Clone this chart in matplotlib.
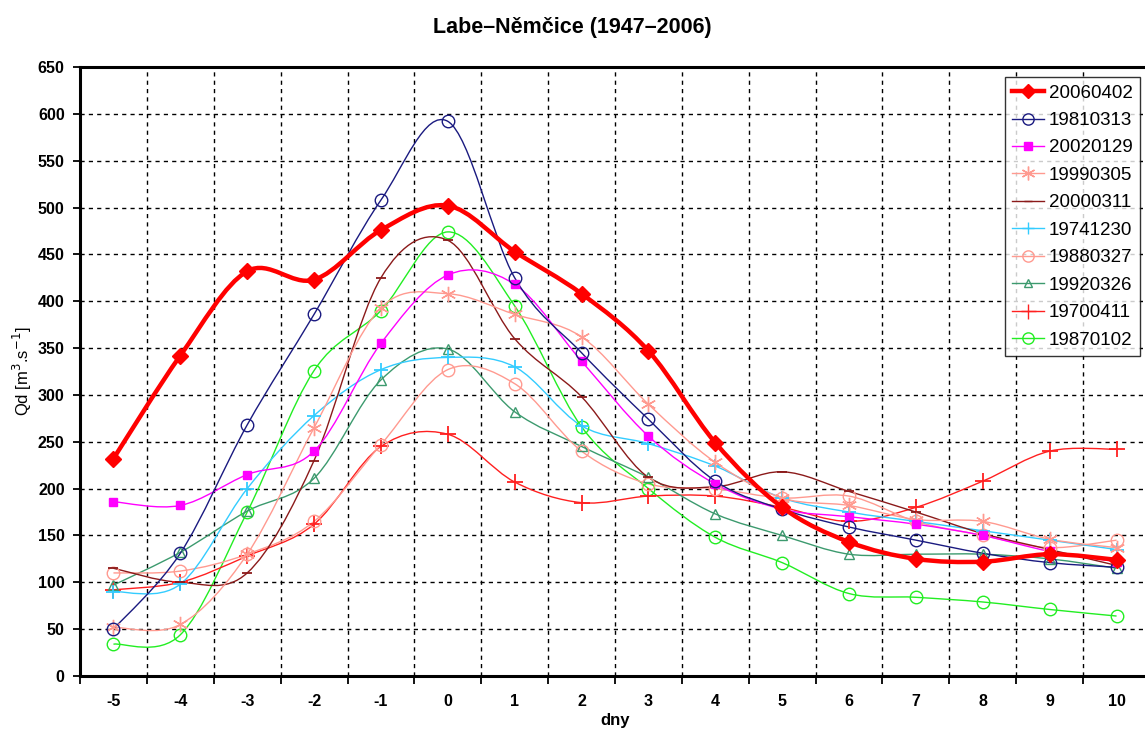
import numpy as np
import matplotlib
matplotlib.use('Agg')
import matplotlib.pyplot as plt
from matplotlib.path import Path
from matplotlib.patches import PathPatch
from matplotlib.lines import Line2D

plt.rcParams['font.family'] = ['Liberation Sans', 'DejaVu Sans']
plt.rcParams['axes.unicode_minus'] = False

# ------------------------------------------------------------
# data
# ------------------------------------------------------------
days = [-5, -4, -3, -2, -1, 0, 1, 2, 3, 4, 5, 6, 7, 8, 9, 10]

q_20060402 = [232, 342, 432, 423, 476, 502, 453, 408, 347, 249, 180, 143, 125, 122, 130, 124]
q_19810313 = [50, 131, 268, 386, 508, 592, 425, 345, 274, 208, 178, 159, 145, 131, 121, 116]
q_20020129 = [186, 182, 215, 240, 355, 428, 418, 336, 256, 205, 178, 170, 162, 150, 133, 122]
q_19990305 = [52, 55, 130, 265, 393, 408, 386, 362, 290, 228, 190, 182, 167, 165, 146, 137]
q_20000311 = [115, 100, 110, 230, 425, 465, 360, 298, 212, 202, 218, 197, 175, 152, 135, 118]
q_19741230 = [90, 98, 200, 278, 327, 340, 330, 267, 248, 224, 190, 175, 165, 155, 145, 135]
q_19880327 = [110, 112, 130, 165, 247, 327, 312, 240, 205, 200, 190, 192, 165, 150, 137, 145]
q_19920326 = [97, 132, 176, 211, 316, 349, 282, 245, 212, 173, 150, 130, 130, 130, 125, 115]
q_19700411 = [92, 100, 128, 162, 245, 258, 207, 185, 192, 192, 180, 165, 180, 208, 240, 242]
q_19870102 = [34, 44, 175, 326, 390, 474, 395, 266, 200, 148, 121, 88, 84, 79, 71, 64]

labels = ['20060402', '19810313', '20020129', '19990305', '20000311',
          '19741230', '19880327', '19920326', '19700411', '19870102']
series = [q_20060402, q_19810313, q_20020129, q_19990305, q_20000311,
          q_19741230, q_19880327, q_19920326, q_19700411, q_19870102]

ASTER = (6, 2, 0)  # six-armed asterisk marker
# style per series: colour, marker, filled, linewidth, markersize
styles = [('#ff0000', 'D', True, 3.2, 8),
          ('#1a1a80', 'o', False, 1.0, 9),
          ('#ff00ff', 's', True, 1.0, 6),
          ('#ff9a90', ASTER, False, 1.0, 11),
          ('#8b1a1a', '_', True, 1.0, 7),
          ('#33ccff', '+', True, 1.0, 10),
          ('#ff9a90', 'o', False, 1.0, 9),
          ('#3c9a6e', '^', False, 1.0, 7),
          ('#ff2020', '+', True, 1.0, 12),
          ('#22ee22', 'o', False, 1.0, 9)]


def smooth_path(x, y):
    # excel-like smoothed line drawn as cubic bezier segments
    x = np.asarray(x, float)
    y = np.asarray(y, float)
    n = len(x)
    verts = [(x[0], y[0])]
    codes = [Path.MOVETO]
    for i in range(n - 1):
        i0 = max(i - 1, 0)
        i3 = min(i + 2, n - 1)
        c1 = (x[i] + (x[i + 1] - x[i0]) / 6., y[i] + (y[i + 1] - y[i0]) / 6.)
        c2 = (x[i + 1] - (x[i3] - x[i]) / 6., y[i + 1] - (y[i3] - y[i]) / 6.)
        verts += [c1, c2, (x[i + 1], y[i + 1])]
        codes += [Path.CURVE4] * 3
    return Path(verts, codes)


fig = plt.figure(figsize=(11.45, 7.37), dpi=100)
ax = fig.add_axes([80 / 1145., 1 - 676 / 737., 1070 / 1145., 609 / 737.])

for k in list(range(len(series)))[::-1]:
    col, mk, filled, lw, ms = styles[k]
    zo = 5 if k == 0 else 3
    ax.add_patch(PathPatch(smooth_path(days, series[k]), facecolor='none',
                           edgecolor=col, lw=lw, zorder=zo, clip_on=False))
    ax.plot(days, series[k], linestyle='None', marker=mk, markersize=ms,
            markerfacecolor=col if filled else 'none', markeredgecolor=col,
            markeredgewidth=1.0 if mk not in ('+', '_') else 1.3, zorder=zo + 1)

handles = []
for k in range(len(series)):
    col, mk, filled, lw, ms = styles[k]
    handles.append(Line2D([0], [0], color=col, lw=lw, marker=mk, markersize=ms * 0.9,
                          markerfacecolor=col if filled else 'none',
                          markeredgecolor=col))

ax.set_xlim(-5.5, 10.5)
ax.set_ylim(0, 650)
ax.set_yticks(np.arange(0, 651, 50))
ax.set_xticks(days)
ax.set_xticks(np.arange(-5.5, 10.6, 1), minor=True)

ax.tick_params(axis='x', which='major', length=0, pad=13, labelsize=11.5)
ax.tick_params(axis='x', which='minor', length=6, width=1.3, direction='out')
ax.tick_params(axis='y', which='major', length=5, width=1.3, direction='out',
               labelsize=11.5, pad=6)
for lab in ax.get_xticklabels() + ax.get_yticklabels():
    lab.set_fontweight('bold')

ax.grid(True, which='minor', axis='x', color='black', linestyle=(0, (3, 3)), linewidth=1.0)
ax.grid(True, which='major', axis='y', color='black', linestyle=(0, (3, 3)), linewidth=1.0)
ax.set_axisbelow(True)

for side in ['left', 'bottom', 'top']:
    ax.spines[side].set_linewidth(2.2)
ax.spines['right'].set_visible(False)

ax.set_xlabel('dny', fontsize=12, fontweight='bold', labelpad=3)
ax.set_ylabel(r'Qd [m$^3$.s$^{-1}$]', fontsize=12, labelpad=3)
fig.text(0.5, 1 - 28 / 737., 'Labe–Němčice (1947–2006)', ha='center', va='center',
         fontsize=15.5, fontweight='bold')

leg = ax.legend(handles, labels, loc='upper right',
                bbox_to_anchor=(1140 / 1145., 1 - 77 / 737.),
                bbox_transform=fig.transFigure, fontsize=13.5, frameon=True,
                fancybox=False, edgecolor='black', handlelength=1.7,
                labelspacing=0.55, borderpad=0.4, handletextpad=0.25,
                borderaxespad=0)
leg.get_frame().set_linewidth(1.0)

fig.savefig('out.png', dpi=100)
